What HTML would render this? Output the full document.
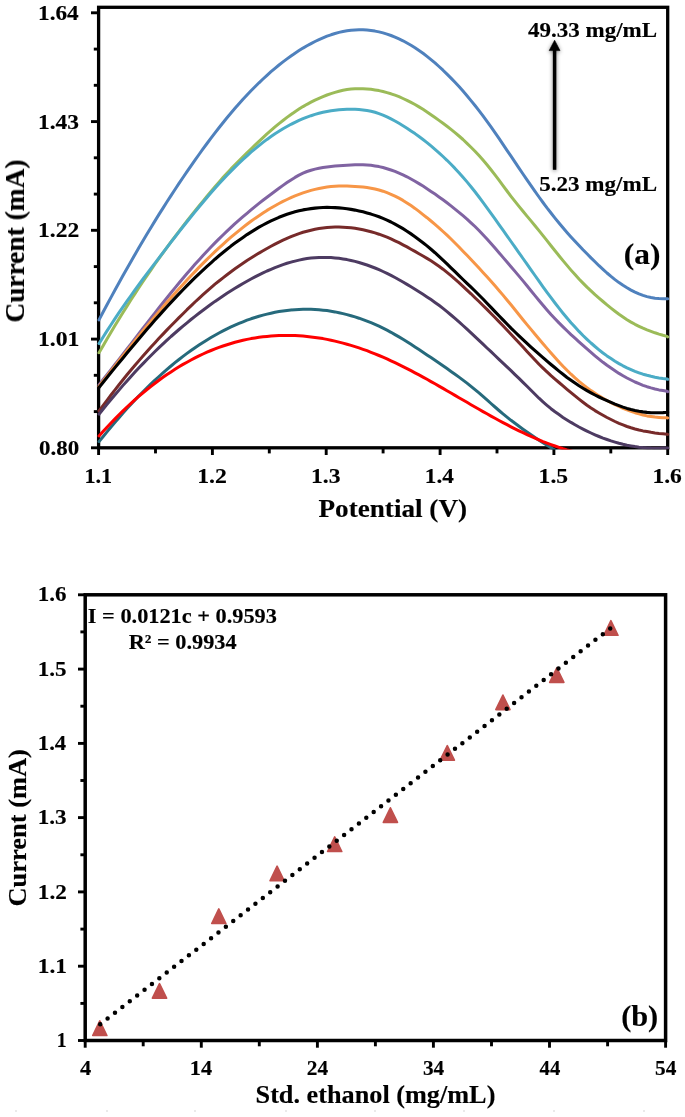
<!DOCTYPE html>
<html><head><meta charset="utf-8"><title>Figure</title>
<style>html,body{margin:0;padding:0;background:#fff}svg{display:block}text{font-family:"Liberation Serif",serif;font-weight:bold;fill:#000;stroke:#000;stroke-width:0.15px}</style></head>
<body><svg width="685" height="1117" viewBox="0 0 685 1117">
<rect width="685" height="1117" fill="#fff"/>
<filter id="soft" x="0" y="0" width="685" height="1117" filterUnits="userSpaceOnUse"><feGaussianBlur stdDeviation="0.45"/></filter>
<g filter="url(#soft)">
<defs><clipPath id="clipA"><rect x="96.6" y="0" width="573.1" height="449.5"/></clipPath>
<filter id="sh" x="-300%" y="-20%" width="700%" height="140%"><feGaussianBlur in="SourceAlpha" stdDeviation="2.2"/><feOffset dx="0" dy="1.2"/><feComponentTransfer><feFuncA type="linear" slope="0.5"/></feComponentTransfer><feMerge><feMergeNode/><feMergeNode in="SourceGraphic"/></feMerge></filter></defs>
<g stroke="#000" stroke-width="3.3" fill="none" stroke-linecap="butt">
<rect x="98.6" y="7.3" width="569.1" height="440.5"/>
</g>
<g stroke="#000" stroke-width="2.9" fill="none">
<path d="M91.0,447.8 H98.6"/>
<path d="M93.8,411.6 H98.6"/>
<path d="M93.8,375.3 H98.6"/>
<path d="M91.0,339.1 H98.6"/>
<path d="M93.8,302.8 H98.6"/>
<path d="M93.8,266.6 H98.6"/>
<path d="M91.0,230.3 H98.6"/>
<path d="M93.8,194.1 H98.6"/>
<path d="M93.8,157.8 H98.6"/>
<path d="M91.0,121.6 H98.6"/>
<path d="M93.8,85.3 H98.6"/>
<path d="M93.8,49.1 H98.6"/>
<path d="M91.0,12.8 H98.6"/>
<path d="M98.6,447.8 V455.0"/>
<path d="M155.5,447.8 V453.4"/>
<path d="M212.4,447.8 V455.0"/>
<path d="M269.3,447.8 V453.4"/>
<path d="M326.2,447.8 V455.0"/>
<path d="M383.1,447.8 V453.4"/>
<path d="M440.1,447.8 V455.0"/>
<path d="M497.0,447.8 V453.4"/>
<path d="M553.9,447.8 V455.0"/>
<path d="M610.8,447.8 V453.4"/>
<path d="M667.7,447.8 V455.0"/>
</g>
<g fill="none" stroke-width="3.0" stroke-linejoin="round" stroke-linecap="round" clip-path="url(#clipA)">
<path stroke="#4F81BD" d="M99.0,319.9 L103.0,312.3 L107.0,304.8 L111.0,297.4 L115.0,290.0 L119.0,282.7 L123.0,275.5 L127.0,268.4 L131.0,261.4 L135.0,254.4 L139.0,247.5 L143.0,240.8 L147.0,234.1 L151.0,227.4 L155.0,220.9 L159.0,214.4 L163.0,208.1 L167.0,201.8 L171.0,195.6 L175.0,189.5 L179.0,183.4 L183.0,177.5 L187.0,171.6 L191.0,165.8 L195.0,160.1 L199.0,154.5 L203.0,148.9 L207.0,143.5 L211.0,138.2 L215.0,132.9 L219.0,127.8 L223.0,122.7 L227.0,117.8 L231.0,113.0 L235.0,108.3 L239.0,103.8 L243.0,99.3 L247.0,95.0 L251.0,90.8 L255.0,86.8 L259.0,82.8 L263.0,79.0 L267.0,75.3 L271.0,71.7 L275.0,68.3 L279.0,65.0 L283.0,61.9 L287.0,58.9 L291.0,56.0 L295.0,53.2 L299.0,50.6 L303.0,48.1 L307.0,45.8 L311.0,43.6 L315.0,41.5 L319.0,39.6 L323.0,37.9 L327.0,36.2 L331.0,34.8 L335.0,33.5 L339.0,32.4 L343.0,31.5 L347.0,30.8 L351.0,30.2 L355.0,29.9 L359.0,29.8 L363.0,29.8 L367.0,30.1 L371.0,30.5 L375.0,31.1 L379.0,31.9 L383.0,32.9 L387.0,34.1 L391.0,35.5 L395.0,37.1 L399.0,38.9 L403.0,40.8 L407.0,43.0 L411.0,45.3 L415.0,47.8 L419.0,50.5 L423.0,53.3 L427.0,56.4 L431.0,59.6 L435.0,62.9 L439.0,66.5 L443.0,70.2 L447.0,74.1 L451.0,78.1 L455.0,82.3 L459.0,86.6 L463.0,91.1 L467.0,95.8 L471.0,100.6 L475.0,105.5 L479.0,110.6 L483.0,115.8 L487.0,121.3 L491.0,126.9 L495.0,132.6 L499.0,138.4 L503.0,144.3 L507.0,150.3 L511.0,156.2 L515.0,162.2 L519.0,168.1 L523.0,174.0 L527.0,179.9 L531.0,185.7 L535.0,191.4 L539.0,197.0 L543.0,202.5 L547.0,207.9 L551.0,213.0 L555.0,218.1 L559.0,223.0 L563.0,227.8 L567.0,232.4 L571.0,236.9 L575.0,241.3 L579.0,245.6 L583.0,249.8 L587.0,253.8 L591.0,257.9 L595.0,261.8 L599.0,265.7 L603.0,269.4 L607.0,273.0 L611.0,276.4 L615.0,279.6 L619.0,282.6 L623.0,285.3 L627.0,287.8 L631.0,290.1 L635.0,292.1 L639.0,293.9 L643.0,295.4 L647.0,296.6 L651.0,297.5 L655.0,298.2 L659.0,298.5 L663.0,298.7 L667.0,298.8 L667.7,298.8"/>
<path stroke="#9BBB59" d="M99.0,352.8 L103.0,345.9 L107.0,339.1 L111.0,332.3 L115.0,325.6 L119.0,319.0 L123.0,312.5 L127.0,306.1 L131.0,299.8 L135.0,293.6 L139.0,287.5 L143.0,281.5 L147.0,275.6 L151.0,269.8 L155.0,264.0 L159.0,258.4 L163.0,252.8 L167.0,247.3 L171.0,241.9 L175.0,236.6 L179.0,231.3 L183.0,226.1 L187.0,221.0 L191.0,215.9 L195.0,210.9 L199.0,206.0 L203.0,201.1 L207.0,196.3 L211.0,191.5 L215.0,186.8 L219.0,182.2 L223.0,177.6 L227.0,173.2 L231.0,168.9 L235.0,164.8 L239.0,160.7 L243.0,156.7 L247.0,152.8 L251.0,149.0 L255.0,145.1 L259.0,141.3 L263.0,137.6 L267.0,133.9 L271.0,130.4 L275.0,126.9 L279.0,123.6 L283.0,120.5 L287.0,117.4 L291.0,114.5 L295.0,111.7 L299.0,109.1 L303.0,106.6 L307.0,104.3 L311.0,102.2 L315.0,100.1 L319.0,98.3 L323.0,96.6 L327.0,95.0 L331.0,93.6 L335.0,92.4 L339.0,91.3 L343.0,90.3 L347.0,89.6 L351.0,89.1 L355.0,88.8 L359.0,88.7 L363.0,88.7 L367.0,88.9 L371.0,89.3 L375.0,89.9 L379.0,90.6 L383.0,91.5 L387.0,92.6 L391.0,93.8 L395.0,95.2 L399.0,96.7 L403.0,98.5 L407.0,100.3 L411.0,102.4 L415.0,104.5 L419.0,106.9 L423.0,109.3 L427.0,111.9 L431.0,114.7 L435.0,117.5 L439.0,120.4 L443.0,123.3 L447.0,126.3 L451.0,129.4 L455.0,132.6 L459.0,136.0 L463.0,139.5 L467.0,143.3 L471.0,147.2 L475.0,151.2 L479.0,155.5 L483.0,160.0 L487.0,164.7 L491.0,169.7 L495.0,174.9 L499.0,180.2 L503.0,185.6 L507.0,191.0 L511.0,196.3 L515.0,201.4 L519.0,206.4 L523.0,211.3 L527.0,216.1 L531.0,220.9 L535.0,225.7 L539.0,230.6 L543.0,235.6 L547.0,240.6 L551.0,245.7 L555.0,250.7 L559.0,255.7 L563.0,260.6 L567.0,265.4 L571.0,270.1 L575.0,274.6 L579.0,279.0 L583.0,283.1 L587.0,287.1 L591.0,290.9 L595.0,294.6 L599.0,298.1 L603.0,301.5 L607.0,304.9 L611.0,308.1 L615.0,311.2 L619.0,314.2 L623.0,317.0 L627.0,319.7 L631.0,322.1 L635.0,324.3 L639.0,326.3 L643.0,328.2 L647.0,329.9 L651.0,331.4 L655.0,332.8 L659.0,334.1 L663.0,335.3 L667.0,336.4 L667.7,336.9"/>
<path stroke="#8064A2" d="M99.0,384.9 L103.0,379.8 L107.0,374.7 L111.0,369.6 L115.0,364.5 L119.0,359.3 L123.0,354.2 L127.0,349.0 L131.0,343.8 L135.0,338.6 L139.0,333.4 L143.0,328.3 L147.0,323.1 L151.0,318.0 L155.0,312.8 L159.0,307.8 L163.0,302.7 L167.0,297.7 L171.0,292.8 L175.0,287.9 L179.0,283.0 L183.0,278.2 L187.0,273.5 L191.0,268.9 L195.0,264.3 L199.0,259.9 L203.0,255.5 L207.0,251.2 L211.0,247.0 L215.0,242.9 L219.0,238.9 L223.0,235.0 L227.0,231.1 L231.0,227.4 L235.0,223.7 L239.0,220.2 L243.0,216.7 L247.0,213.3 L251.0,209.9 L255.0,206.6 L259.0,203.4 L263.0,200.3 L267.0,197.2 L271.0,194.2 L275.0,191.2 L279.0,188.3 L283.0,185.4 L287.0,182.6 L291.0,179.9 L295.0,177.4 L299.0,175.1 L303.0,173.2 L307.0,171.5 L311.0,170.2 L315.0,169.1 L319.0,168.3 L323.0,167.5 L327.0,167.0 L331.0,166.5 L335.0,166.1 L339.0,165.8 L343.0,165.5 L347.0,165.2 L351.0,164.9 L355.0,164.7 L359.0,164.7 L363.0,164.7 L367.0,165.0 L371.0,165.3 L375.0,165.9 L379.0,166.6 L383.0,167.5 L387.0,168.7 L391.0,170.0 L395.0,171.4 L399.0,173.1 L403.0,174.9 L407.0,176.8 L411.0,179.0 L415.0,181.2 L419.0,183.6 L423.0,186.1 L427.0,188.7 L431.0,191.4 L435.0,194.1 L439.0,196.9 L443.0,199.8 L447.0,202.8 L451.0,205.9 L455.0,209.1 L459.0,212.3 L463.0,215.7 L467.0,219.1 L471.0,222.8 L475.0,226.5 L479.0,230.5 L483.0,234.7 L487.0,239.0 L491.0,243.5 L495.0,248.1 L499.0,252.7 L503.0,257.4 L507.0,262.0 L511.0,266.7 L515.0,271.4 L519.0,276.1 L523.0,280.9 L527.0,285.8 L531.0,290.7 L535.0,295.6 L539.0,300.5 L543.0,305.3 L547.0,309.9 L551.0,314.4 L555.0,318.7 L559.0,322.9 L563.0,326.9 L567.0,330.8 L571.0,334.6 L575.0,338.2 L579.0,341.8 L583.0,345.4 L587.0,348.9 L591.0,352.4 L595.0,355.8 L599.0,359.1 L603.0,362.3 L607.0,365.3 L611.0,368.1 L615.0,370.8 L619.0,373.4 L623.0,375.7 L627.0,378.0 L631.0,380.0 L635.0,382.0 L639.0,383.7 L643.0,385.3 L647.0,386.7 L651.0,387.9 L655.0,389.0 L659.0,389.9 L663.0,390.6 L667.0,391.3 L667.7,391.6"/>
<path stroke="#4BACC6" d="M99.0,343.6 L103.0,337.2 L107.0,330.9 L111.0,324.7 L115.0,318.6 L119.0,312.7 L123.0,306.8 L127.0,301.1 L131.0,295.5 L135.0,289.9 L139.0,284.5 L143.0,279.0 L147.0,273.7 L151.0,268.4 L155.0,263.1 L159.0,257.8 L163.0,252.6 L167.0,247.4 L171.0,242.2 L175.0,237.0 L179.0,231.9 L183.0,226.8 L187.0,221.8 L191.0,216.8 L195.0,211.9 L199.0,207.0 L203.0,202.2 L207.0,197.5 L211.0,192.8 L215.0,188.3 L219.0,183.8 L223.0,179.5 L227.0,175.2 L231.0,171.1 L235.0,167.1 L239.0,163.2 L243.0,159.4 L247.0,155.8 L251.0,152.2 L255.0,148.9 L259.0,145.6 L263.0,142.4 L267.0,139.4 L271.0,136.6 L275.0,133.8 L279.0,131.3 L283.0,128.8 L287.0,126.5 L291.0,124.3 L295.0,122.3 L299.0,120.4 L303.0,118.7 L307.0,117.1 L311.0,115.7 L315.0,114.4 L319.0,113.3 L323.0,112.3 L327.0,111.5 L331.0,110.8 L335.0,110.3 L339.0,109.8 L343.0,109.5 L347.0,109.3 L351.0,109.3 L355.0,109.3 L359.0,109.5 L363.0,109.9 L367.0,110.5 L371.0,111.2 L375.0,112.3 L379.0,113.6 L383.0,115.1 L387.0,116.9 L391.0,118.9 L395.0,121.0 L399.0,123.3 L403.0,125.7 L407.0,128.2 L411.0,130.9 L415.0,133.6 L419.0,136.5 L423.0,139.5 L427.0,142.6 L431.0,145.9 L435.0,149.3 L439.0,152.8 L443.0,156.5 L447.0,160.3 L451.0,164.3 L455.0,168.4 L459.0,172.7 L463.0,177.2 L467.0,181.9 L471.0,186.7 L475.0,191.8 L479.0,197.0 L483.0,202.3 L487.0,207.8 L491.0,213.3 L495.0,218.9 L499.0,224.6 L503.0,230.2 L507.0,235.8 L511.0,241.5 L515.0,247.2 L519.0,252.8 L523.0,258.5 L527.0,264.2 L531.0,269.9 L535.0,275.5 L539.0,281.2 L543.0,286.8 L547.0,292.3 L551.0,297.7 L555.0,303.0 L559.0,308.2 L563.0,313.2 L567.0,318.0 L571.0,322.7 L575.0,327.1 L579.0,331.4 L583.0,335.5 L587.0,339.3 L591.0,343.0 L595.0,346.5 L599.0,349.8 L603.0,353.0 L607.0,355.9 L611.0,358.6 L615.0,361.2 L619.0,363.6 L623.0,365.8 L627.0,367.8 L631.0,369.6 L635.0,371.3 L639.0,372.8 L643.0,374.2 L647.0,375.3 L651.0,376.3 L655.0,377.2 L659.0,377.9 L663.0,378.5 L667.0,379.0 L667.7,379.3"/>
<path stroke="#F79646" d="M99.0,386.4 L103.0,381.3 L107.0,376.1 L111.0,371.0 L115.0,365.9 L119.0,360.8 L123.0,355.7 L127.0,350.7 L131.0,345.7 L135.0,340.7 L139.0,335.8 L143.0,330.8 L147.0,326.0 L151.0,321.2 L155.0,316.4 L159.0,311.6 L163.0,307.0 L167.0,302.3 L171.0,297.8 L175.0,293.2 L179.0,288.8 L183.0,284.4 L187.0,280.0 L191.0,275.8 L195.0,271.6 L199.0,267.4 L203.0,263.4 L207.0,259.4 L211.0,255.5 L215.0,251.7 L219.0,247.9 L223.0,244.3 L227.0,240.7 L231.0,237.2 L235.0,233.9 L239.0,230.6 L243.0,227.4 L247.0,224.3 L251.0,221.3 L255.0,218.4 L259.0,215.7 L263.0,213.0 L267.0,210.4 L271.0,208.0 L275.0,205.7 L279.0,203.5 L283.0,201.4 L287.0,199.5 L291.0,197.6 L295.0,195.9 L299.0,194.4 L303.0,192.9 L307.0,191.6 L311.0,190.4 L315.0,189.4 L319.0,188.5 L323.0,187.7 L327.0,187.1 L331.0,186.6 L335.0,186.3 L339.0,186.1 L343.0,186.0 L347.0,186.0 L351.0,186.2 L355.0,186.4 L359.0,186.7 L363.0,187.1 L367.0,187.6 L371.0,188.2 L375.0,189.0 L379.0,190.0 L383.0,191.2 L387.0,192.7 L391.0,194.3 L395.0,196.1 L399.0,198.2 L403.0,200.4 L407.0,202.9 L411.0,205.6 L415.0,208.4 L419.0,211.4 L423.0,214.6 L427.0,217.7 L431.0,221.0 L435.0,224.4 L439.0,227.8 L443.0,231.5 L447.0,235.2 L451.0,239.0 L455.0,243.0 L459.0,247.0 L463.0,251.2 L467.0,255.3 L471.0,259.5 L475.0,263.8 L479.0,268.1 L483.0,272.4 L487.0,276.8 L491.0,281.2 L495.0,285.8 L499.0,290.4 L503.0,295.1 L507.0,300.0 L511.0,304.8 L515.0,309.8 L519.0,314.7 L523.0,319.7 L527.0,324.6 L531.0,329.4 L535.0,334.2 L539.0,339.0 L543.0,343.7 L547.0,348.4 L551.0,353.0 L555.0,357.5 L559.0,361.9 L563.0,366.2 L567.0,370.3 L571.0,374.2 L575.0,377.9 L579.0,381.4 L583.0,384.6 L587.0,387.7 L591.0,390.6 L595.0,393.3 L599.0,395.9 L603.0,398.3 L607.0,400.5 L611.0,402.7 L615.0,404.7 L619.0,406.5 L623.0,408.3 L627.0,409.9 L631.0,411.3 L635.0,412.7 L639.0,413.9 L643.0,415.0 L647.0,415.9 L651.0,416.5 L655.0,417.1 L659.0,417.4 L663.0,417.7 L667.0,417.8 L667.7,417.9"/>
<path stroke="#000000" stroke-width="3.1" d="M99.0,387.5 L103.0,382.5 L107.0,377.5 L111.0,372.6 L115.0,367.6 L119.0,362.7 L123.0,357.9 L127.0,353.0 L131.0,348.2 L135.0,343.4 L139.0,338.7 L143.0,334.0 L147.0,329.3 L151.0,324.7 L155.0,320.1 L159.0,315.6 L163.0,311.1 L167.0,306.7 L171.0,302.4 L175.0,298.1 L179.0,293.9 L183.0,289.7 L187.0,285.6 L191.0,281.6 L195.0,277.7 L199.0,273.8 L203.0,270.1 L207.0,266.4 L211.0,262.8 L215.0,259.2 L219.0,255.8 L223.0,252.5 L227.0,249.3 L231.0,246.1 L235.0,243.1 L239.0,240.2 L243.0,237.4 L247.0,234.6 L251.0,232.1 L255.0,229.6 L259.0,227.2 L263.0,225.0 L267.0,222.9 L271.0,220.9 L275.0,219.1 L279.0,217.3 L283.0,215.8 L287.0,214.3 L291.0,213.0 L295.0,211.8 L299.0,210.8 L303.0,209.9 L307.0,209.2 L311.0,208.6 L315.0,208.1 L319.0,207.7 L323.0,207.5 L327.0,207.4 L331.0,207.5 L335.0,207.6 L339.0,207.9 L343.0,208.3 L347.0,208.7 L351.0,209.4 L355.0,210.1 L359.0,210.9 L363.0,211.8 L367.0,212.9 L371.0,214.1 L375.0,215.4 L379.0,216.8 L383.0,218.4 L387.0,220.1 L391.0,222.0 L395.0,224.1 L399.0,226.3 L403.0,228.7 L407.0,231.2 L411.0,233.9 L415.0,236.7 L419.0,239.7 L423.0,242.7 L427.0,245.9 L431.0,249.3 L435.0,252.7 L439.0,256.4 L443.0,260.1 L447.0,263.9 L451.0,267.8 L455.0,271.7 L459.0,275.6 L463.0,279.5 L467.0,283.3 L471.0,287.2 L475.0,291.0 L479.0,295.0 L483.0,299.0 L487.0,303.2 L491.0,307.4 L495.0,311.6 L499.0,315.8 L503.0,319.9 L507.0,324.0 L511.0,328.1 L515.0,332.0 L519.0,335.9 L523.0,339.7 L527.0,343.4 L531.0,347.1 L535.0,350.7 L539.0,354.2 L543.0,357.6 L547.0,361.1 L551.0,364.5 L555.0,367.8 L559.0,371.1 L563.0,374.3 L567.0,377.4 L571.0,380.3 L575.0,383.1 L579.0,385.8 L583.0,388.3 L587.0,390.7 L591.0,392.9 L595.0,395.0 L599.0,397.0 L603.0,398.9 L607.0,400.7 L611.0,402.4 L615.0,404.1 L619.0,405.6 L623.0,407.1 L627.0,408.4 L631.0,409.5 L635.0,410.5 L639.0,411.3 L643.0,411.9 L647.0,412.4 L651.0,412.7 L655.0,412.8 L659.0,412.7 L663.0,412.6 L667.0,412.3 L667.7,412.2"/>
<path stroke="#772C2A" d="M99.0,411.0 L103.0,405.6 L107.0,400.3 L111.0,395.0 L115.0,389.9 L119.0,384.8 L123.0,379.8 L127.0,374.8 L131.0,370.0 L135.0,365.3 L139.0,360.6 L143.0,356.0 L147.0,351.5 L151.0,347.0 L155.0,342.7 L159.0,338.3 L163.0,334.1 L167.0,329.9 L171.0,325.8 L175.0,321.7 L179.0,317.6 L183.0,313.7 L187.0,309.7 L191.0,305.9 L195.0,302.0 L199.0,298.3 L203.0,294.7 L207.0,291.1 L211.0,287.6 L215.0,284.2 L219.0,281.0 L223.0,277.8 L227.0,274.7 L231.0,271.7 L235.0,268.8 L239.0,266.0 L243.0,263.3 L247.0,260.6 L251.0,258.1 L255.0,255.6 L259.0,253.1 L263.0,250.8 L267.0,248.5 L271.0,246.3 L275.0,244.2 L279.0,242.1 L283.0,240.2 L287.0,238.4 L291.0,236.7 L295.0,235.1 L299.0,233.6 L303.0,232.3 L307.0,231.2 L311.0,230.2 L315.0,229.3 L319.0,228.6 L323.0,228.0 L327.0,227.5 L331.0,227.2 L335.0,227.1 L339.0,227.0 L343.0,227.2 L347.0,227.4 L351.0,227.8 L355.0,228.3 L359.0,229.0 L363.0,229.8 L367.0,230.7 L371.0,231.7 L375.0,232.9 L379.0,234.2 L383.0,235.7 L387.0,237.2 L391.0,238.9 L395.0,240.8 L399.0,242.7 L403.0,244.8 L407.0,246.9 L411.0,249.2 L415.0,251.4 L419.0,253.7 L423.0,256.0 L427.0,258.4 L431.0,260.8 L435.0,263.4 L439.0,266.2 L443.0,269.2 L447.0,272.4 L451.0,275.7 L455.0,279.2 L459.0,282.7 L463.0,286.4 L467.0,290.1 L471.0,293.8 L475.0,297.7 L479.0,301.5 L483.0,305.5 L487.0,309.4 L491.0,313.5 L495.0,317.5 L499.0,321.6 L503.0,325.8 L507.0,330.0 L511.0,334.2 L515.0,338.5 L519.0,342.8 L523.0,347.1 L527.0,351.5 L531.0,355.8 L535.0,360.0 L539.0,364.2 L543.0,368.1 L547.0,371.9 L551.0,375.6 L555.0,379.1 L559.0,382.5 L563.0,385.9 L567.0,389.3 L571.0,392.6 L575.0,395.9 L579.0,399.1 L583.0,402.2 L587.0,405.2 L591.0,408.0 L595.0,410.6 L599.0,413.0 L603.0,415.3 L607.0,417.5 L611.0,419.5 L615.0,421.5 L619.0,423.3 L623.0,424.9 L627.0,426.5 L631.0,427.8 L635.0,429.0 L639.0,430.0 L643.0,430.9 L647.0,431.6 L651.0,432.3 L655.0,432.9 L659.0,433.4 L663.0,433.8 L667.0,434.2 L667.7,434.4"/>
<path stroke="#4D3B62" d="M99.0,414.2 L103.0,409.3 L107.0,404.4 L111.0,399.5 L115.0,394.8 L119.0,390.1 L123.0,385.4 L127.0,380.9 L131.0,376.5 L135.0,372.1 L139.0,367.8 L143.0,363.6 L147.0,359.5 L151.0,355.5 L155.0,351.5 L159.0,347.7 L163.0,343.9 L167.0,340.2 L171.0,336.5 L175.0,333.0 L179.0,329.5 L183.0,326.1 L187.0,322.8 L191.0,319.5 L195.0,316.3 L199.0,313.2 L203.0,310.2 L207.0,307.2 L211.0,304.3 L215.0,301.4 L219.0,298.7 L223.0,296.0 L227.0,293.3 L231.0,290.8 L235.0,288.3 L239.0,285.9 L243.0,283.5 L247.0,281.2 L251.0,279.0 L255.0,276.9 L259.0,274.8 L263.0,272.9 L267.0,271.0 L271.0,269.3 L275.0,267.6 L279.0,266.1 L283.0,264.6 L287.0,263.3 L291.0,262.1 L295.0,261.1 L299.0,260.1 L303.0,259.3 L307.0,258.6 L311.0,258.1 L315.0,257.7 L319.0,257.5 L323.0,257.4 L327.0,257.4 L331.0,257.6 L335.0,257.9 L339.0,258.3 L343.0,258.9 L347.0,259.6 L351.0,260.5 L355.0,261.4 L359.0,262.5 L363.0,263.7 L367.0,265.0 L371.0,266.5 L375.0,268.0 L379.0,269.7 L383.0,271.5 L387.0,273.4 L391.0,275.4 L395.0,277.5 L399.0,279.7 L403.0,282.0 L407.0,284.4 L411.0,286.8 L415.0,289.3 L419.0,291.8 L423.0,294.3 L427.0,296.9 L431.0,299.6 L435.0,302.4 L439.0,305.3 L443.0,308.4 L447.0,311.6 L451.0,315.0 L455.0,318.4 L459.0,321.9 L463.0,325.5 L467.0,329.2 L471.0,332.9 L475.0,336.6 L479.0,340.4 L483.0,344.2 L487.0,348.0 L491.0,351.7 L495.0,355.5 L499.0,359.3 L503.0,363.1 L507.0,366.9 L511.0,370.7 L515.0,374.6 L519.0,378.4 L523.0,382.4 L527.0,386.3 L531.0,390.3 L535.0,394.3 L539.0,398.2 L543.0,401.9 L547.0,405.4 L551.0,408.7 L555.0,411.8 L559.0,414.6 L563.0,417.4 L567.0,419.9 L571.0,422.4 L575.0,424.7 L579.0,427.0 L583.0,429.1 L587.0,431.1 L591.0,433.0 L595.0,434.8 L599.0,436.5 L603.0,438.1 L607.0,439.5 L611.0,440.9 L615.0,442.1 L619.0,443.3 L623.0,444.3 L627.0,445.2 L631.0,445.9 L635.0,446.6 L639.0,447.2 L643.0,447.6 L647.0,447.9 L651.0,448.1 L655.0,448.2 L659.0,448.2 L663.0,448.1 L667.0,448.0 L667.7,447.9"/>
<path stroke="#276A7C" d="M99.0,441.6 L103.0,436.7 L107.0,431.9 L111.0,427.0 L115.0,422.3 L119.0,417.7 L123.0,413.1 L127.0,408.6 L131.0,404.3 L135.0,400.0 L139.0,395.8 L143.0,391.8 L147.0,387.8 L151.0,383.9 L155.0,380.1 L159.0,376.5 L163.0,372.9 L167.0,369.4 L171.0,366.0 L175.0,362.7 L179.0,359.5 L183.0,356.4 L187.0,353.4 L191.0,350.5 L195.0,347.7 L199.0,345.0 L203.0,342.4 L207.0,339.9 L211.0,337.5 L215.0,335.2 L219.0,333.0 L223.0,330.9 L227.0,328.8 L231.0,326.9 L235.0,325.1 L239.0,323.4 L243.0,321.8 L247.0,320.2 L251.0,318.8 L255.0,317.5 L259.0,316.2 L263.0,315.1 L267.0,314.1 L271.0,313.2 L275.0,312.3 L279.0,311.6 L283.0,311.0 L287.0,310.4 L291.0,310.0 L295.0,309.7 L299.0,309.4 L303.0,309.3 L307.0,309.3 L311.0,309.3 L315.0,309.5 L319.0,309.8 L323.0,310.2 L327.0,310.6 L331.0,311.2 L335.0,311.9 L339.0,312.7 L343.0,313.6 L347.0,314.6 L351.0,315.7 L355.0,316.9 L359.0,318.2 L363.0,319.6 L367.0,321.1 L371.0,322.7 L375.0,324.4 L379.0,326.2 L383.0,328.2 L387.0,330.2 L391.0,332.3 L395.0,334.6 L399.0,336.9 L403.0,339.3 L407.0,341.7 L411.0,344.3 L415.0,346.9 L419.0,349.5 L423.0,352.2 L427.0,354.9 L431.0,357.6 L435.0,360.3 L439.0,363.0 L443.0,365.8 L447.0,368.6 L451.0,371.4 L455.0,374.2 L459.0,377.1 L463.0,380.1 L467.0,383.1 L471.0,386.3 L475.0,389.6 L479.0,392.9 L483.0,396.4 L487.0,399.9 L491.0,403.5 L495.0,407.0 L499.0,410.5 L503.0,413.9 L507.0,417.1 L511.0,420.3 L515.0,423.3 L519.0,426.3 L523.0,429.2 L527.0,432.0 L531.0,434.8 L535.0,437.5 L539.0,440.2 L543.0,442.7 L547.0,445.2 L551.0,447.7 L555.0,450.0 L559.0,452.2 L563.0,454.3 L567.0,456.3 L570.0,458.2"/>
<path stroke="#FF0000" d="M99.0,435.9 L103.0,431.6 L107.0,427.3 L111.0,423.0 L115.0,418.9 L119.0,414.8 L123.0,410.9 L127.0,407.0 L131.0,403.3 L135.0,399.7 L139.0,396.2 L143.0,392.8 L147.0,389.5 L151.0,386.3 L155.0,383.2 L159.0,380.2 L163.0,377.3 L167.0,374.5 L171.0,371.9 L175.0,369.3 L179.0,366.8 L183.0,364.4 L187.0,362.2 L191.0,360.0 L195.0,357.9 L199.0,355.9 L203.0,354.0 L207.0,352.2 L211.0,350.5 L215.0,348.9 L219.0,347.4 L223.0,346.0 L227.0,344.7 L231.0,343.5 L235.0,342.3 L239.0,341.3 L243.0,340.3 L247.0,339.4 L251.0,338.6 L255.0,337.9 L259.0,337.3 L263.0,336.8 L267.0,336.4 L271.0,336.0 L275.0,335.7 L279.0,335.5 L283.0,335.4 L287.0,335.4 L291.0,335.4 L295.0,335.6 L299.0,335.8 L303.0,336.1 L307.0,336.4 L311.0,336.9 L315.0,337.4 L319.0,338.0 L323.0,338.6 L327.0,339.4 L331.0,340.2 L335.0,341.1 L339.0,342.1 L343.0,343.1 L347.0,344.2 L351.0,345.4 L355.0,346.6 L359.0,347.9 L363.0,349.3 L367.0,350.7 L371.0,352.3 L375.0,353.8 L379.0,355.5 L383.0,357.2 L387.0,358.9 L391.0,360.8 L395.0,362.7 L399.0,364.6 L403.0,366.6 L407.0,368.6 L411.0,370.7 L415.0,372.8 L419.0,374.9 L423.0,377.1 L427.0,379.3 L431.0,381.6 L435.0,383.8 L439.0,386.1 L443.0,388.4 L447.0,390.7 L451.0,393.0 L455.0,395.4 L459.0,397.7 L463.0,400.0 L467.0,402.3 L471.0,404.7 L475.0,407.0 L479.0,409.3 L483.0,411.6 L487.0,413.8 L491.0,416.1 L495.0,418.3 L499.0,420.5 L503.0,422.6 L507.0,424.7 L511.0,426.8 L515.0,428.8 L519.0,430.8 L523.0,432.7 L527.0,434.6 L531.0,436.4 L535.0,438.2 L539.0,439.9 L543.0,441.6 L547.0,443.1 L551.0,444.6 L555.0,446.0 L559.0,447.4 L563.0,448.7 L567.0,449.9 L571.0,451.0 L575.0,452.1"/>
</g>
<g filter="url(#sh)"><path d="M554.6,169.8 V49" stroke="#000" stroke-width="3.5" fill="none"/><path d="M554.6,40.2 L560,50.6 H549.2 Z" fill="#000" stroke="#000" stroke-width="0.6" stroke-linejoin="round"/></g>
<g stroke="#000" stroke-width="3.5" fill="none">
<rect x="85.2" y="594.8" width="580.4" height="445.7"/>
</g>
<g stroke="#000" stroke-width="2.9" fill="none">
<path d="M78.0,1040.5 H85.2"/>
<path d="M80.4,1003.4 H85.2"/>
<path d="M78.0,966.2 H85.2"/>
<path d="M80.4,929.1 H85.2"/>
<path d="M78.0,891.9 H85.2"/>
<path d="M80.4,854.8 H85.2"/>
<path d="M78.0,817.6 H85.2"/>
<path d="M80.4,780.5 H85.2"/>
<path d="M78.0,743.4 H85.2"/>
<path d="M80.4,706.2 H85.2"/>
<path d="M78.0,669.1 H85.2"/>
<path d="M80.4,631.9 H85.2"/>
<path d="M78.0,594.8 H85.2"/>
<path d="M85.2,1040.5 V1047.7"/>
<path d="M143.2,1040.5 V1046.3"/>
<path d="M201.3,1040.5 V1047.7"/>
<path d="M259.3,1040.5 V1046.3"/>
<path d="M317.4,1040.5 V1047.7"/>
<path d="M375.4,1040.5 V1046.3"/>
<path d="M433.4,1040.5 V1047.7"/>
<path d="M491.5,1040.5 V1046.3"/>
<path d="M549.5,1040.5 V1047.7"/>
<path d="M607.6,1040.5 V1046.3"/>
<path d="M665.6,1040.5 V1047.7"/>
</g>
<g fill="#C0504D" stroke="#C0504D" stroke-width="1.6" stroke-linejoin="round">
<path d="M99.8,1020.9 L106.9,1035.5 H92.7 Z"/>
<path d="M159.5,983.6 L166.6,998.2 H152.4 Z"/>
<path d="M218.8,908.9 L225.9,923.5 H211.7 Z"/>
<path d="M277.1,866.2 L284.2,880.8 H270.0 Z"/>
<path d="M334.7,836.9 L341.8,851.5 H327.6 Z"/>
<path d="M390.4,807.8 L397.5,822.4 H383.3 Z"/>
<path d="M447.3,745.6 L454.4,760.2 H440.2 Z"/>
<path d="M502.9,695.0 L510.0,709.6 H495.8 Z"/>
<path d="M556.8,667.8 L563.9,682.4 H549.7 Z"/>
<path d="M610.9,620.7 L618.0,635.3 H603.8 Z"/>
</g>
<path d="M100.20,1024.20 L610.44,628.22" stroke="#000" stroke-width="4.5" stroke-linecap="round" stroke-dasharray="0 9.3561" fill="none"/>
<text x="39.03" y="454.90" font-size="20.90" textLength="40.09" lengthAdjust="spacingAndGlyphs" >0.80</text>
<text x="37.98" y="346.15" font-size="20.90" textLength="41.51" lengthAdjust="spacingAndGlyphs" >1.01</text>
<text x="37.99" y="237.40" font-size="20.90" textLength="41.26" lengthAdjust="spacingAndGlyphs" >1.22</text>
<text x="38.01" y="128.65" font-size="20.90" textLength="41.02" lengthAdjust="spacingAndGlyphs" >1.43</text>
<text x="38.02" y="19.90" font-size="20.90" textLength="40.67" lengthAdjust="spacingAndGlyphs" >1.64</text>
<text x="84.41" y="482.60" font-size="21.00" textLength="27.75" lengthAdjust="spacingAndGlyphs" >1.1</text>
<text x="197.16" y="482.60" font-size="21.00" textLength="29.73" lengthAdjust="spacingAndGlyphs" >1.2</text>
<text x="310.99" y="482.60" font-size="21.00" textLength="29.48" lengthAdjust="spacingAndGlyphs" >1.3</text>
<text x="424.84" y="482.60" font-size="21.00" textLength="29.00" lengthAdjust="spacingAndGlyphs" >1.4</text>
<text x="538.63" y="482.60" font-size="21.00" textLength="29.48" lengthAdjust="spacingAndGlyphs" >1.5</text>
<text x="652.46" y="482.60" font-size="21.00" textLength="29.36" lengthAdjust="spacingAndGlyphs" >1.6</text>
<text x="318.47" y="516.60" font-size="25.50" textLength="148.59" lengthAdjust="spacingAndGlyphs" >Potential (V)</text>
<text transform="translate(24.00,322.58) rotate(-90)" font-size="26.50" textLength="163.07" lengthAdjust="spacingAndGlyphs" >Current (mA)</text>
<text x="528.08" y="36.90" font-size="20.60" textLength="129.06" lengthAdjust="spacingAndGlyphs" >49.33 mg/mL</text>
<text x="539.20" y="190.60" font-size="20.60" textLength="117.94" lengthAdjust="spacingAndGlyphs" >5.23 mg/mL</text>
<text x="623.82" y="264.00" font-size="29.30" textLength="36.62" lengthAdjust="spacingAndGlyphs" >(a)</text>
<text x="56.80" y="1047.10" font-size="21.00" textLength="9.84" lengthAdjust="spacingAndGlyphs" >1</text>
<text x="37.82" y="972.82" font-size="21.00" textLength="29.19" lengthAdjust="spacingAndGlyphs" >1.1</text>
<text x="37.83" y="898.53" font-size="21.00" textLength="29.07" lengthAdjust="spacingAndGlyphs" >1.2</text>
<text x="37.84" y="824.25" font-size="21.00" textLength="28.83" lengthAdjust="spacingAndGlyphs" >1.3</text>
<text x="37.87" y="749.97" font-size="21.00" textLength="28.35" lengthAdjust="spacingAndGlyphs" >1.4</text>
<text x="37.84" y="675.68" font-size="21.00" textLength="28.83" lengthAdjust="spacingAndGlyphs" >1.5</text>
<text x="37.85" y="601.40" font-size="21.00" textLength="28.71" lengthAdjust="spacingAndGlyphs" >1.6</text>
<text x="80.03" y="1074.70" font-size="20.40" textLength="11.25" lengthAdjust="spacingAndGlyphs" >4</text>
<text x="189.83" y="1074.70" font-size="20.40" textLength="22.27" lengthAdjust="spacingAndGlyphs" >14</text>
<text x="306.82" y="1074.70" font-size="20.40" textLength="21.35" lengthAdjust="spacingAndGlyphs" >24</text>
<text x="423.01" y="1074.70" font-size="20.40" textLength="21.24" lengthAdjust="spacingAndGlyphs" >34</text>
<text x="539.62" y="1074.70" font-size="20.40" textLength="20.71" lengthAdjust="spacingAndGlyphs" >44</text>
<text x="655.06" y="1074.70" font-size="20.40" textLength="21.35" lengthAdjust="spacingAndGlyphs" >54</text>
<text x="255.54" y="1102.50" font-size="25.00" textLength="239.84" lengthAdjust="spacingAndGlyphs" >Std. ethanol (mg/mL)</text>
<text transform="translate(25.60,906.46) rotate(-90)" font-size="25.20" textLength="157.30" lengthAdjust="spacingAndGlyphs" >Current (mA)</text>
<text x="87.85" y="622.60" font-size="20.90" textLength="189.04" lengthAdjust="spacingAndGlyphs" >I = 0.0121c + 0.9593</text>
<text x="128.68" y="648.60" font-size="20.90" textLength="107.99" lengthAdjust="spacingAndGlyphs" >R² = 0.9934</text>
<text x="621.15" y="1026.00" font-size="29.00" textLength="37.04" lengthAdjust="spacingAndGlyphs" >(b)</text>
<g fill="#d6d6d6">
<rect x="15" y="1110.5" width="2" height="1"/>
<rect x="106" y="1110.5" width="2" height="1"/>
<rect x="194" y="1110.5" width="2" height="1"/>
<rect x="285" y="1110.5" width="2" height="1"/>
<rect x="374" y="1110.5" width="2" height="1"/>
<rect x="463" y="1110.5" width="2" height="1"/>
<rect x="553" y="1110.5" width="2" height="1"/>
<rect x="643" y="1110.5" width="2" height="1"/>
</g>
</g>
</svg></body></html>
